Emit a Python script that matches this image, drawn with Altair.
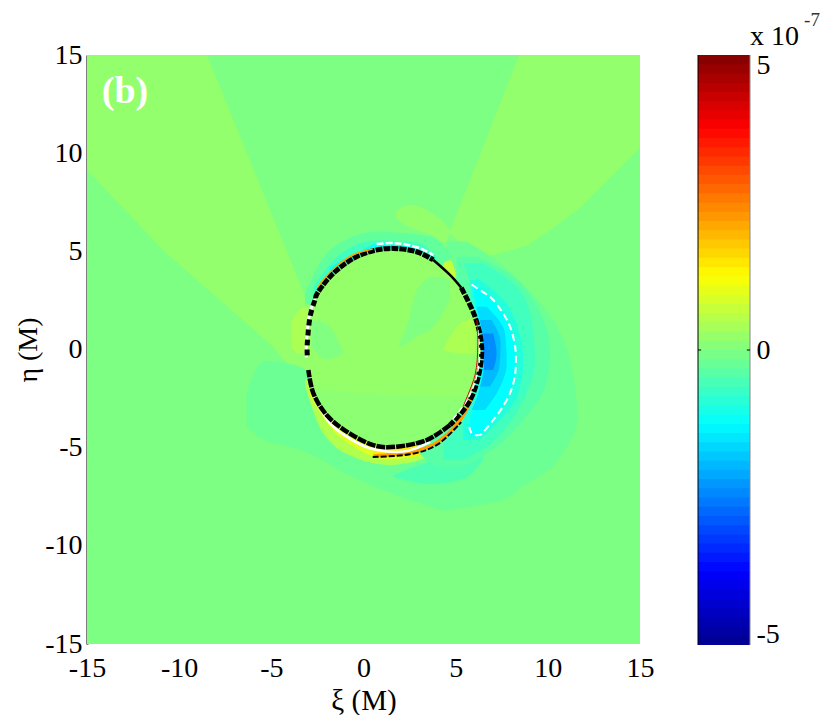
import altair as alt
import numpy as np
import pandas as pd

FONT = "Liberation Serif"
# colour stops of the colour map (value -> colour)
CM_DOMAIN = [-5.2, -3.9, -1.3, 1.3, 3.9, 5.2]
CM_RANGE = ["#00008f", "#0000ff", "#00ffff", "#ffff00", "#ff0000", "#800000"]
XTICKS = [-15, -10, -5, 0, 5, 10, 15]
CBTICKS = [-5, 0, 5]

BG = -0.04
WEDGE = 0.2

# regions: (x, y_low, y_high) columns
wedge_left = [(-15, 9.14, 15), (-10.77, 4.97, 15), (-8.49, 3.09, 15), (-5.07, 0.28, 7.1), (-3.72, -1.15, 3.98), (-2.74, -1.3, 1.71)]
wedge_right = [(4.69, 5.9, 6.04), (5.6, 5.1, 8.2), (6.65, 4.76, 10.72), (7.6, 4.95, 13.0), (8.44, 5.2, 15), (8.92, 5.32, 15), (10.3, 6.2, 15), (11.8, 7.26, 15), (15, 10.3, 15)]
blob_top = [(1.76, 6.7, 7.0), (2.2, 6.39, 7.3), (2.58, 6.2, 7.36), (3.77, 5.8, 6.9), (4.42, 5.47, 6.4), (4.69, 5.9, 6.04)]
teal_lower = [(-6.34, -3.9, -2.2), (-5.43, -4.6, -0.6), (-4.17, -4.9, -0.7), (-3.17, -5.2, -1.0), (-1, -6.3, -3), (2, -7.5, -4), (4, -8.1, -4)]
bottom_strip = [(1.62, -6.5, -6.4), (3.61, -6.85, -5.7), (5.42, -6.6, -5.3), (6.5, -5.6, -5.0)]
halo_1 = [(-3.17, 2.3, 2.86), (-1.82, 2.3, 5.07), (0.71, 2.3, 6.0), (3.61, 2.3, 5.75), (4.69, 2.3, 4.9)]
halo_2 = [(-2.72, 2.3, 3.2), (-1.45, 2.3, 4.7), (0.71, 2.3, 5.55), (2.89, 2.3, 5.45), (3.97, 2.3, 4.75)]
halo_3 = [(-1.82, 2.3, 4.2), (0, 2.3, 5.1), (0.71, 2.3, 5.38), (2.89, 2.3, 5.2), (3.79, 2.3, 4.68)]
warm_1 = [(-3.17, -1.89, -1.5), (-2.18, -4.27, -1.5), (-0.37, -5.54, -1.5), (1.44, -5.88, -1.5), (3.97, -5.29, -1.5), (5.42, -3.93, -1.5), (6.14, -2.4, -1.5)]
warm_2 = [(-2.9, -2.4, -1.5), (-1.82, -3.95, -1.5), (-0.37, -5.05, -1.5), (1.44, -5.6, -1.5), (3.61, -5.2, -1.5), (5.05, -3.93, -1.5), (6.05, -2.23, -1.5)]
warm_3 = [(0.53, -5.3, -1.5), (2.52, -5.45, -1.5), (3.97, -5.0, -1.5), (5.24, -3.8, -1.5), (5.96, -2.3, -1.5)]
warm_spot = [(4.33, 4.0, 4.4), (4.7, 3.7, 4.55), (5.0, 3.6, 3.9)]
warm_left = [(-3.9, 0.1, 1.4), (-3.5, -0.2, 2.0), (-3.0, -0.2, 2.2)]

# disc rows and crescents: (y, x_left, x_right)
disc = [(5.15, 1.0, 1.9), (5.0, 0.5, 2.7), (4.6, -0.5, 3.75), (3.9, -1.64, 4.6), (3.0, -2.45, 5.4), (1.67, -2.9, 6.05),
        (0.3, -3.05, 6.4), (-1.04, -2.99, 6.28), (-2.23, -2.72, 5.9), (-3.34, -2.0, 5.1), (-4.18, -0.91, 4.2), (-4.6, -0.1, 3.43), (-4.9, 0.9, 2.6), (-5.0, 1.5, 2.0)]
disc_low = [(-1.9, -2.9, -2.8), (-2.4, -2.6, 4.0), (-1.8, -2.6, 6.0), (-2.4, -2.6, 5.8), (-3.34, -2.0, 5.1), (-4.18, -0.91, 4.2), (-4.6, -0.1, 3.43), (-4.9, 0.9, 2.6)]
inner_teal = [(1.89, 0.14, 0.23), (2.34, 0.31, 1.16), (2.89, 0.65, 3.03), (3.79, 1.16, 3.71), (4.69, 2.52, 3.54)]
inner_left = [(-2.8, 0.1, 1.5), (-2.0, -0.5, 1.3), (-1.1, -0.2, -0.1)]
inner_warm = [(4.33, -0.03, 0.03), (5.24, -0.2, 1.33), (6.05, -0.2, 1.59)]

cres_a = [(5.5, 4.6, 5.6), (4.8, 4.4, 6.8), (3.0, 4.0, 9.0), (-0.5, 4.0, 11.2), (-3.6, 2.0, 11.6), (-5.0, 1.0, 11.0), (-6.1, 1.0, 10.1), (-7.0, 1.8, 8.6), (-7.7, 3.0, 7.4), (-8.2, 4.15, 4.5)]
cres_b = [(4.73, 5.06, 6.14), (4.05, 5.05, 7.59), (2.35, 5.42, 9.3), (-0.2, 5.42, 10.12), (-1.89, 5.05, 9.85), (-3.59, 3.97, 8.67), (-4.95, 2.88, 7.22), (-5.97, 3.97, 5.42)]
cres_c = [(4.39, 5.42, 6.5), (3.2, 5.78, 8.31), (1.5, 5.78, 9.12), (-0.54, 5.78, 9.3), (-2.23, 5.42, 8.85), (-3.93, 5.05, 7.77), (-4.95, 4.33, 6.68), (-5.63, 4.33, 5.42)]
cres_d = [(3.54, 5.78, 6.32), (2.18, 5.96, 7.86), (-0.54, 6.23, 8.67), (-2.23, 5.96, 8.4), (-3.59, 5.42, 7.4), (-4.61, 5.42, 6.23)]
cres_e = [(3.29, 5.87, 6.05), (2.52, 6.05, 7.04), (1.16, 6.23, 7.95), (-0.54, 6.41, 8.27), (-2.23, 6.23, 7.95), (-3.59, 5.78, 7.04), (-4.35, 5.74, 6.32)]
cres_f = [(2.18, 6.14, 6.68), (0.82, 6.41, 7.68), (-0.7, 6.5, 7.77), (-2.23, 6.23, 7.22), (-3.08, 5.87, 6.59)]
cres_g = [(1.5, 6.32, 6.95), (0.31, 6.5, 7.44), (-0.87, 6.54, 7.37), (-1.89, 6.32, 6.86)]
cres_h = [(0.82, 6.5, 7.04), (-0.2, 6.54, 7.22), (-1.04, 6.54, 7.04)]

# curves: (x, y)
white_contour = [(5.87, 3.3), (6.6, 2.85), (7.04, 2.52), (7.6, 1.8), (7.95, 1.16), (8.2, 0.3), (8.27, -0.54), (8.2, -1.4), (7.95, -2.23), (7.5, -3.0), (7.04, -3.59), (6.6, -4.1), (6.32, -4.35), (5.9, -4.3), (5.74, -3.95)]
white_top = [(0.71, 5.37), (1.5, 5.42), (2.16, 5.37), (3.07, 5.15), (3.79, 4.81)]
ring_tl = [(-2.6, 2.6), (-2.45, 2.95), (-1.64, 3.88), (-0.55, 4.64), (0.53, 5.03), (1.62, 5.15), (2.88, 4.98), (3.79, 4.56)]
orange_tl = [(-2.5, 3.15), (-1.7, 4.05), (-0.6, 4.8), (0.5, 5.12)]
ring_thin = [(3.79, 4.56), (4.69, 3.8), (5.3, 3.15)]
ring_right = [(5.3, 3.15), (6.05, 1.67), (6.41, 0.14), (6.23, -1.38), (5.69, -2.74), (4.69, -3.85)]
white_right = [(6.2, 1.0), (6.3, -0.3), (6.1, -1.5), (5.6, -2.6), (4.8, -3.6)]
red_right = [(6.15, 1.5), (6.2, 0.2), (6.05, -1.3), (5.4, -2.9)]
ring_bottom = [(4.69, -3.85), (3.43, -4.61), (1.8, -4.95), (0.53, -4.87), (-0.91, -4.18), (-2.0, -3.34), (-2.72, -2.23), (-2.99, -1.04)]
white_bottom = [(-2.72, -2.4), (-1.82, -3.76), (-0.91, -4.44), (0.35, -5.03), (2.16, -5.2), (3.61, -4.7)]
orange_bottom = [(0.53, -5.42), (2.52, -5.25), (3.97, -4.75), (5.24, -3.59), (5.96, -2.23)]
black_bottom = [(0.5, -5.47), (2.5, -5.34), (4.0, -4.85), (5.3, -3.7)]
ring_left = [(-3.05, -0.3), (-3.05, 0.31), (-2.9, 1.67), (-2.6, 2.6)]
white_left = [(-3.1, -0.4), (-3.1, 0.31), (-2.95, 1.67), (-2.65, 2.6)]

LABEL = "datum.value < 0 ? '-' + abs(datum.value) : '' + datum.value"
xs = alt.Scale(domain=[-15, 15], nice=False, zero=False)
ys = alt.Scale(domain=[-15, 15], nice=False, zero=False)
cs = alt.Scale(domain=CM_DOMAIN, range=CM_RANGE, clamp=True, interpolate="rgb")
col = alt.Color("v:Q", scale=cs, legend=None)
x_axis = alt.Axis(
    values=XTICKS, tickSize=0, domain=False, grid=False, labelFont=FONT, labelFontSize=28, labelColor="black",
    labelPadding=10, labelExpr=LABEL, titleFont=FONT, titleFontSize=29, titleFontWeight="normal",
    titleColor="black", titlePadding=4, labelFlush=False)
y_axis = alt.Axis(
    values=XTICKS, tickSize=0, domain=True, domainColor="black", domainWidth=2, grid=False, labelFont=FONT,
    labelFontSize=28, labelColor="black", labelPadding=5, labelExpr=LABEL, titleFont=FONT, titleFontSize=28,
    titleFontWeight="normal", titleColor="black", titlePadding=2, labelFlush=False)
nx = alt.X("x:Q", scale=xs, title="ξ (M)", axis=x_axis)
ny = alt.Y("y:Q", scale=ys, title="η (M)", axis=y_axis)


def vband(rows, v, interp="monotone"):
    df = pd.DataFrame(rows, columns=["x", "y", "y2"]).assign(v=v)
    return alt.Chart(df).mark_area(orient="vertical", interpolate=interp, clip=True).encode(
        x=nx, y=ny, y2="y2:Q", color=col)


def hband(rows, v):
    df = pd.DataFrame(rows, columns=["y", "x", "x2"]).assign(v=v)
    return alt.Chart(df).mark_area(orient="horizontal", interpolate="monotone", clip=True).encode(
        y=alt.Y("y:Q", scale=ys, title="η (M)", axis=y_axis, sort=None), x=nx, x2="x2:Q", color=col)


def curve(pts, color, width, dash=None):
    df = pd.DataFrame(pts, columns=["x", "y"]).assign(i=range(len(pts)))
    kw = {"strokeDash": dash} if dash else {}
    return alt.Chart(df).mark_line(color=color, strokeWidth=width, interpolate="cardinal",
                                   clip=True, strokeCap="butt", **kw).encode(x=nx, y=ny, order="i:Q")


bg = alt.Chart(pd.DataFrame({"x": [-15], "x2": [15], "y": [-15], "y2": [15], "v": [BG]})).mark_rect().encode(
    x=nx, x2="x2:Q", y=ny, y2="y2:Q", color=col)

label = alt.Chart(pd.DataFrame({"x": [-12.94], "y": [13.1], "t": ["(b)"]})).mark_text(
    font=FONT, fontSize=38, fontWeight="bold", color="white").encode(x=nx, y=ny, text="t:N")

main = alt.layer(
    bg,
    vband(wedge_left, WEDGE, "linear"), vband(wedge_right, WEDGE, "linear"), vband(blob_top, WEDGE),
    vband(teal_lower, -0.2), hband(cres_a, -0.2), vband(bottom_strip, -0.5),
    vband(warm_left, 0.45, "monotone"),
    vband(halo_1, -0.3), vband(halo_2, -0.65), vband(halo_3, -1.2),
    vband(warm_1, 0.5), vband(warm_2, 0.95), vband(warm_3, 1.5),
    hband(cres_b, -0.4), hband(cres_c, -0.65), hband(cres_d, -0.95), hband(cres_e, -1.3),
    hband(cres_f, -1.65), hband(cres_g, -2.0), hband(cres_h, -2.45),
    vband(warm_spot, 0.7),
    hband(disc, 0.22), hband(disc_low, 0.14),
    vband(inner_teal, 0.0), vband(inner_left, 0.0), vband(inner_warm, 0.45),
    curve(white_contour, "white", 2, [7, 4]),
    curve(white_top, "white", 2.5, [7, 2]),
    curve(orange_bottom, "#ff9d00", 3.5),
    curve(black_bottom, "black", 2, [6, 2]),
    curve(white_bottom, "white", 2.5),
    curve(white_left, "white", 3),
    curve(ring_tl, "black", 5, [7, 1]),
    curve(orange_tl, "#ffa500", 1.5),
    curve(ring_thin, "black", 2.5),
    curve(ring_right, "black", 5, [7, 1.5]),
    curve(white_right, "white", 1.5, [6, 3]),
    curve(red_right, "#d01010", 1),
    curve(ring_bottom, "black", 4.5, [9, 1]),
    curve(ring_left, "black", 5, [6, 4]),
    label,
).properties(width=553, height=589)

# colour bar
N_LEVELS = 64
edges = np.linspace(-5.19, 5.19, N_LEVELS + 1)
cb = pd.DataFrame({"x": 0, "x2": 1, "y": edges[:-1], "y2": np.minimum(edges[1:] + 0.04, 5.19), "v": (edges[:-1] + edges[1:]) / 2})
cbx = alt.Scale(domain=[0, 1], nice=False, zero=False)
cby = alt.Scale(domain=[-5.19, 5.19], nice=False, zero=False)
cb_axis = alt.Axis(orient="right", values=CBTICKS, tickSize=0, domain=False, grid=False, labelFont=FONT,
                   labelFontSize=28, labelColor="black", labelPadding=6, labelExpr=LABEL)
bx = alt.X("x:Q", scale=cbx, axis=None)
by = alt.Y("y:Q", scale=cby, title=None, axis=cb_axis)
bar = alt.Chart(cb).mark_rect(stroke=None).encode(x=bx, x2="x2:Q", y=by, y2="y2:Q", color=col)
left_edge = alt.Chart(pd.DataFrame({"x": [0]})).mark_rule(color="black", strokeWidth=1).encode(x=bx)
right_edge = alt.Chart(pd.DataFrame({"x": [1]})).mark_rule(color="#888888", strokeWidth=1).encode(x=bx)
tick_l = alt.Chart(pd.DataFrame({"x": [0], "x2": [0.06], "y": [0]})).mark_rule(color="black").encode(x=bx, x2="x2:Q", y=by)
tick_r = alt.Chart(pd.DataFrame({"x": [0.94], "x2": [1.0], "y": [0]})).mark_rule(color="black").encode(x=bx, x2="x2:Q", y=by)
exp_a = alt.Chart(pd.DataFrame({"x": [1.0], "y": [5.5], "t": ["x 10"]})).mark_text(
    font=FONT, fontSize=28, align="left", color="black", clip=False).encode(x=bx, y=by, text="t:N")
exp_b = alt.Chart(pd.DataFrame({"x": [2.04], "y": [5.8], "t": ["-7"]})).mark_text(
    font=FONT, fontSize=19, align="left", color="#333333", clip=False).encode(x=bx, y=by, text="t:N")
colorbar = alt.layer(bar, left_edge, right_edge, tick_l, tick_r, exp_a, exp_b).properties(width=52, height=590)

chart = alt.hconcat(main, colorbar, spacing=58, bounds="flush").resolve_scale(
    color="shared", x="independent", y="independent"
).configure_view(stroke=None).properties(
    padding={"left": 6, "top": 3, "right": 0, "bottom": 0}, background="white")

chart.save("out.html", embed_options={"renderer": "svg", "actions": False})
